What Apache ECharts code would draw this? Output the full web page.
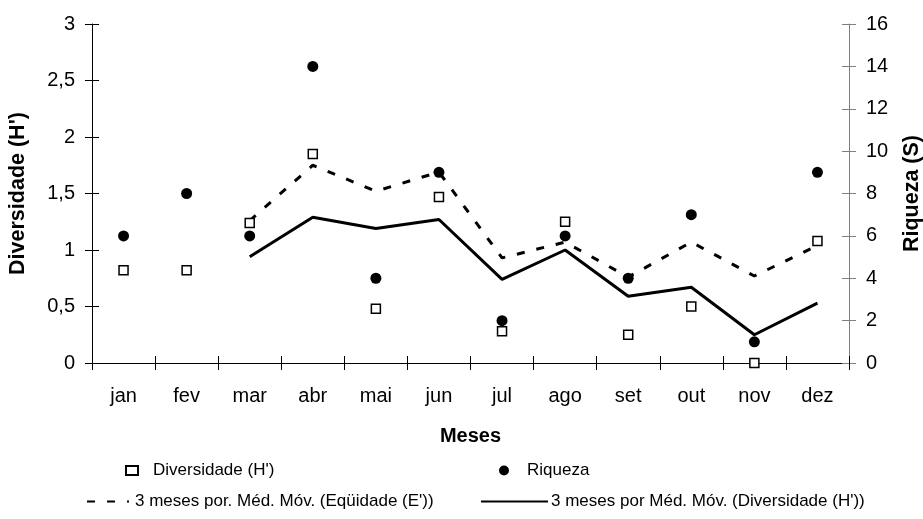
<!DOCTYPE html>
<html>
<head>
<meta charset="utf-8">
<script src="https://cdn.jsdelivr.net/npm/echarts@6/dist/echarts.min.js"></script>
<style>
html,body{margin:0;padding:0;background:#fff;}
#chart{width:923px;height:519px;}
</style>
</head>
<body>
<div id="chart"></div>
<script>
var categories = ['jan','fev','mar','abr','mai','jun','jul','ago','set','out','nov','dez'];
var diversidade = [0.82, 0.82, 1.24, 1.85, 0.48, 1.47, 0.28, 1.25, 0.25, 0.50, 0.00, 1.08];
var riqueza = [6, 8, 6, 14, 4, 9, 2, 6, 4, 7, 1, 9];
var mmEquidade = [null, null, 1.26, 1.75, 1.52, 1.69, 0.93, 1.07, 0.76, 1.07, 0.77, 1.04];
var mmDiversidade = [null, null, 0.94, 1.29, 1.19, 1.27, 0.74, 1.00, 0.59, 0.67, 0.25, 0.53];
var seriesNames = ["Diversidade (H')", 'Riqueza', "3 meses por. Méd. Móv. (Eqüidade (E'))", "3 meses por Méd. Móv. (Diversidade (H'))"];
var leftAxisTitle = "Diversidade (H')";
var rightAxisTitle = 'Riqueza (S)';
var xAxisTitle = 'Meses';

var FONT = 'Liberation Sans, Arial, sans-serif';
var chart = echarts.init(document.getElementById('chart'), null, {renderer: 'canvas'});
function comma(v){ return String(v).replace('.', ','); }
var legendText = {fontFamily: FONT, fontSize: 17, color: '#000'};

chart.setOption({
  animation: false,
  backgroundColor: '#fff',
  grid: {left: 92, right: 74, top: 24, bottom: 156, containLabel: false, outerBoundsMode: 'none'},
  legend: [
    {data: [seriesNames[0]], left: 125, top: 462, padding: 0, itemWidth: 12, itemHeight: 9, itemGap: 0,
     textStyle: Object.assign({padding: [0,0,0,10]}, legendText)},
    {data: [seriesNames[1]], left: 499, top: 462, padding: 0, itemWidth: 12, itemHeight: 10, itemGap: 0,
     textStyle: Object.assign({padding: [0,0,0,12]}, legendText)},
    {data: [seriesNames[2]], left: 86, top: 493, padding: 0, itemWidth: 42, itemHeight: 14, itemGap: 0,
     itemStyle: {opacity: 0},
     textStyle: Object.assign({padding: [0,0,0,1]}, legendText)},
    {data: [seriesNames[3]], left: 480, top: 493, padding: 0, itemWidth: 67, itemHeight: 14, itemGap: 0,
     itemStyle: {opacity: 0},
     textStyle: Object.assign({padding: [0,0,0,-2]}, legendText)}
  ],
  xAxis: [
    {type: 'category', data: categories, boundaryGap: true, position: 'bottom',
     axisLine: {lineStyle: {color: '#000', width: 1}},
     axisTick: {show: true, interval: 0, length: 7, lineStyle: {color: '#000'}},
     axisLabel: {interval: 0, margin: 23, fontFamily: FONT, fontSize: 20, color: '#000'},
     name: xAxisTitle, nameLocation: 'middle', nameGap: 63,
     nameTextStyle: {fontFamily: FONT, fontSize: 20, fontWeight: 'bold', color: '#000'},
     splitLine: {show: false}},
    {type: 'category', data: categories, boundaryGap: true, position: 'bottom',
     axisLine: {show: false},
     axisTick: {show: true, inside: true, interval: 0, length: 7, lineStyle: {color: '#000'}},
     axisLabel: {show: false}, splitLine: {show: false}}
  ],
  yAxis: [
    {type: 'value', min: 0, max: 3, interval: 0.5, position: 'left',
     axisLine: {show: true, lineStyle: {color: '#000'}},
     axisTick: {show: true, length: 7, lineStyle: {color: '#000'}},
     axisLabel: {formatter: comma, margin: 17, fontFamily: FONT, fontSize: 20, color: '#000'},
     splitLine: {show: false},
     name: leftAxisTitle, nameLocation: 'middle', nameGap: 63, nameRotate: 90,
     nameTextStyle: {fontFamily: FONT, fontSize: 21.5, fontWeight: 'bold', color: '#000'}},
    {type: 'value', min: 0, max: 16, interval: 2, position: 'right',
     axisLine: {show: true, lineStyle: {color: '#808080'}},
     axisTick: {show: true, length: 7, lineStyle: {color: '#808080'}},
     axisLabel: {margin: 17, fontFamily: FONT, fontSize: 20, color: '#000'},
     splitLine: {show: false},
     name: rightAxisTitle, nameLocation: 'middle', nameGap: 52, nameRotate: 90,
     nameTextStyle: {fontFamily: FONT, fontSize: 21.5, fontWeight: 'bold', color: '#000'}},
    {type: 'value', min: 0, max: 3, interval: 0.5, position: 'left',
     axisLine: {show: false}, axisLabel: {show: false}, splitLine: {show: false},
     axisTick: {show: true, inside: true, length: 7, lineStyle: {color: '#000'}}},
    {type: 'value', min: 0, max: 16, interval: 2, position: 'right',
     axisLine: {show: false}, axisLabel: {show: false}, splitLine: {show: false},
     axisTick: {show: true, inside: true, length: 7, lineStyle: {color: '#808080'}}}
  ],
  series: [
    {name: seriesNames[2], type: 'line', yAxisIndex: 0, data: mmEquidade, symbol: 'none',
     lineStyle: {color: '#000', width: 3, type: [8, 12]}, itemStyle: {color: '#000'}, z: 2},
    {name: seriesNames[3], type: 'line', yAxisIndex: 0, data: mmDiversidade, symbol: 'none',
     lineStyle: {color: '#000', width: 3, type: 'solid'}, itemStyle: {color: '#000'}, z: 2},
    {name: seriesNames[0], type: 'scatter', yAxisIndex: 0, data: diversidade, symbol: 'rect', symbolSize: 9,
     itemStyle: {color: '#fff', borderColor: '#000', borderWidth: 1.5, opacity: 1}, z: 3},
    {name: seriesNames[1], type: 'scatter', yAxisIndex: 1, data: riqueza, symbol: 'circle', symbolSize: 11,
     itemStyle: {color: '#000', opacity: 1}, z: 3}
  ]
});
</script>
</body>
</html>
